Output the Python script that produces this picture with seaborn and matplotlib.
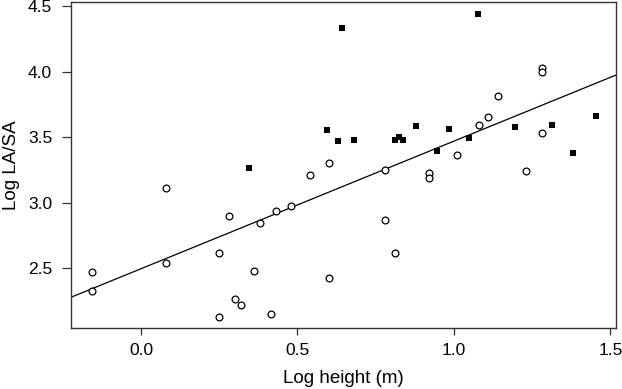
import pandas as pd
import seaborn as sns
import matplotlib.pyplot as plt

# open circles
circ_x = [0.08, 0.54, 1.28, 1.28, 1.14, 1.11, 1.08, 1.28, 1.01, 1.23, 0.60, 0.78, 0.92, 0.92,
          -0.156, -0.156, 0.08, 0.28, 0.25, 0.38, 0.43, 0.48, 0.36, 0.30, 0.32, 0.25, 0.415,
          0.78, 0.81, 0.60]
circ_y = [3.11, 3.21, 4.025, 3.995, 3.815, 3.65, 3.59, 3.535, 3.365, 3.243, 3.30, 3.25, 3.228, 3.187,
          2.472, 2.332, 2.54, 2.898, 2.614, 2.847, 2.936, 2.977, 2.484, 2.266, 2.22, 2.131, 2.154,
          2.87, 2.619, 2.428]

# filled squares
sq_x = [0.346, 0.641, 1.076, 0.594, 0.630, 0.679, 0.812, 0.824, 0.837, 0.878, 0.984, 0.946,
        1.048, 1.196, 1.312, 1.453, 1.379]
sq_y = [3.264, 4.33, 4.44, 3.553, 3.469, 3.482, 3.479, 3.505, 3.482, 3.586, 3.563, 3.396,
        3.49, 3.576, 3.596, 3.665, 3.383]

# fitted line
intercept = 2.498
slope = 0.972

df_c = pd.DataFrame({'x': circ_x, 'y': circ_y})
df_s = pd.DataFrame({'x': sq_x, 'y': sq_y})

sns.set_style('ticks')
plt.rcParams['font.family'] = ['Liberation Sans', 'DejaVu Sans']

fig, ax = plt.subplots(figsize=(6.22, 3.89), dpi=100)
fig.subplots_adjust(left=0.114, right=0.99, top=0.995, bottom=0.157)

sns.scatterplot(data=df_c, x='x', y='y', ax=ax, marker='o', s=24,
                facecolor='white', edgecolor='black', linewidth=0.9, zorder=3)
sns.scatterplot(data=df_s, x='x', y='y', ax=ax, marker='s', s=16,
                color='black', edgecolor='black', linewidth=0, zorder=3)
ax.axline((0, intercept), slope=slope, color='black', linewidth=0.9, zorder=2)

ax.set_xlim(-0.224, 1.517)
ax.set_ylim(2.047, 4.53)
ax.set_xticks([0.0, 0.5, 1.0, 1.5])
ax.set_yticks([2.5, 3.0, 3.5, 4.0, 4.5])
ax.set_xticklabels(['0.0', '0.5', '1.0', '1.5'])
ax.set_yticklabels(['2.5', '3.0', '3.5', '4.0', '4.5'])
ax.set_xlabel('Log height (m)', fontsize=13.5, color='black', labelpad=9)
ax.set_ylabel('Log LA/SA', fontsize=13.5, color='black', labelpad=6)
ax.tick_params(labelsize=12.5, width=0.9, color='#333333', labelcolor='black')
ax.tick_params(axis='x', length=5, pad=5.5)
ax.tick_params(axis='y', length=6.5, pad=7)
for sp in ax.spines.values():
    sp.set_visible(True)
    sp.set_linewidth(1.0)
    sp.set_color('#333333')

plt.savefig('out.png', dpi=100)
